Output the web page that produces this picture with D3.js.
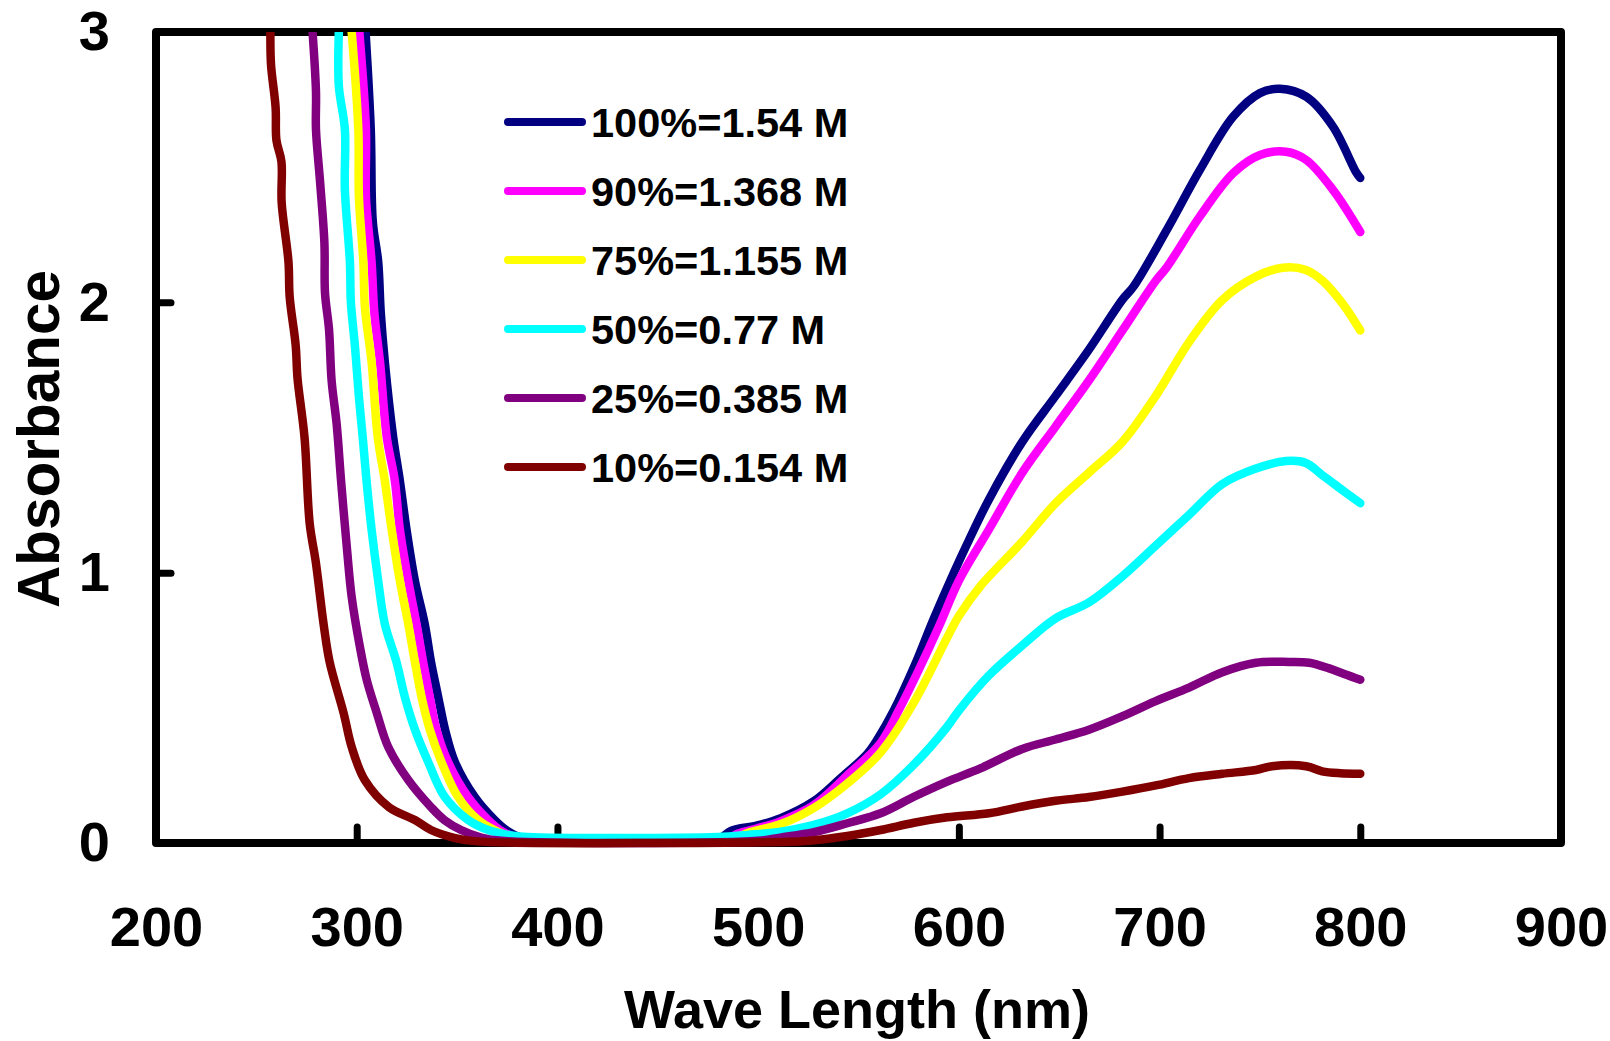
<!DOCTYPE html>
<html>
<head>
<meta charset="utf-8">
<script src="https://cdn.jsdelivr.net/npm/d3@7"></script>
<style>
  html, body { margin: 0; padding: 0; background: #fff; }
  svg { display: block; }
  text { font-family: "Liberation Sans", Arial, sans-serif; font-weight: bold; fill: #000; }
</style>
</head>
<body>
<svg id="chart" width="1610" height="1041"></svg>
<script>
// ---------------- data (wavelength nm, absorbance) ----------------
const xTicks = [200, 300, 400, 500, 600, 700, 800, 900];
const yTicks = [0, 1, 2, 3];
const xTitle = "Wave Length (nm)";
const yTitle = "Absorbance";
const seriesNames = ["100%=1.54 M", "90%=1.368 M", "75%=1.155 M", "50%=0.77 M", "25%=0.385 M", "10%=0.154 M"];
const seriesColors = ["#000080", "#FF00FF", "#FFFF00", "#00FFFF", "#800080", "#800000"];

const s100 = [[304.4,3.0],[307,2.64],[308,2.30],[310.7,2.15],[312,1.96],[314,1.78],[318.2,1.50],[321.5,1.34],[324.8,1.16],[329,0.97],[333.9,0.81],[337,0.67],[340.6,0.54],[344,0.42],[348.9,0.30],[358.8,0.17],[368.7,0.085],[375,0.045],[382,0.02],[390,0.015],[480,0.015],[486.4,0.045],[499.7,0.065],[511.3,0.092],[527.8,0.155],[541.1,0.24],[554.4,0.33],[560,0.39],[567.6,0.49],[577.6,0.65],[587.5,0.83],[597.5,1.0],[605,1.12],[615,1.271],[631.6,1.484],[648.2,1.654],[664.8,1.825],[681.5,2.01],[687,2.058],[703.6,2.268],[720.1,2.49],[736.7,2.687],[750,2.774],[760,2.79],[773.2,2.76],[786.4,2.65],[798,2.48],[800,2.46]];
const s90 = [[301.3,3.0],[304.6,2.64],[304.6,2.39],[307.4,2.15],[308.8,1.96],[311.6,1.78],[315,1.50],[319,1.34],[321.5,1.16],[325.7,0.97],[329.8,0.81],[333.1,0.67],[336.4,0.54],[339.7,0.42],[345.5,0.30],[355.5,0.17],[365.5,0.085],[372,0.045],[380,0.02],[390,0.015],[484,0.015],[490,0.035],[500,0.055],[511,0.08],[527.8,0.14],[544.4,0.25],[561,0.37],[570,0.49],[580,0.64],[590,0.80],[600,0.97],[615,1.16],[631.6,1.37],[648.2,1.541],[664.8,1.711],[681.5,1.896],[698.1,2.08],[703.6,2.13],[720,2.317],[736.7,2.478],[750,2.545],[763,2.557],[773,2.527],[786.4,2.416],[800,2.26]];
const s75 = [[297.5,3.0],[300.8,2.64],[301.1,2.39],[303.3,2.15],[304.1,1.98],[307.4,1.78],[310.5,1.50],[314,1.34],[317.4,1.16],[321.5,0.97],[325.7,0.81],[329,0.67],[332.3,0.54],[336.4,0.42],[342.2,0.30],[350.5,0.17],[360.5,0.085],[368.6,0.048],[378,0.02],[388,0.015],[486,0.015],[496,0.04],[511.3,0.07],[527.8,0.13],[544.4,0.22],[561,0.335],[577.6,0.52],[594.2,0.76],[600,0.84],[610.7,0.95],[631.6,1.115],[648.2,1.257],[664.8,1.37],[681.5,1.484],[698.1,1.654],[714.7,1.853],[731.3,2.009],[748,2.095],[761.3,2.128],[772.9,2.12],[781.2,2.08],[791.2,1.995],[800,1.896]];
const s50 = [[291.1,3.0],[291.1,2.80],[294.1,2.64],[294.1,2.42],[296.6,2.15],[297.1,2.0],[299.1,1.84],[301.1,1.65],[303,1.50],[304.9,1.34],[307.4,1.16],[310.7,0.97],[314,0.81],[319.8,0.67],[324,0.54],[329,0.42],[335.6,0.30],[343.9,0.17],[355.5,0.085],[365.5,0.048],[377,0.028],[385,0.022],[480,0.022],[494.7,0.03],[511.3,0.042],[527.8,0.067],[544.4,0.11],[561,0.18],[577.6,0.29],[594.2,0.43],[600,0.49],[615,0.62],[631.6,0.731],[648.2,0.831],[664.8,0.89],[681.5,0.987],[698.1,1.10],[714.7,1.214],[731.3,1.328],[748,1.385],[763,1.413],[772.9,1.406],[781.2,1.36],[789.5,1.314],[800,1.257]];
const s25 = [[278,3.0],[279.7,2.78],[279.7,2.64],[281.7,2.45],[283.9,2.22],[284.2,2.035],[286.2,1.90],[287.5,1.71],[290,1.55],[292.2,1.34],[295,1.10],[297.5,0.91],[301.6,0.725],[305,0.603],[310,0.481],[315.7,0.355],[325.7,0.233],[337,0.133],[343.7,0.085],[352,0.048],[362,0.02],[372,0.008],[500,0.008],[511,0.02],[527.8,0.04],[544.4,0.073],[561,0.11],[577.6,0.171],[594.2,0.227],[610.7,0.276],[631.6,0.348],[648.2,0.383],[664.8,0.419],[681.5,0.469],[698.1,0.525],[714.7,0.575],[731.3,0.632],[748,0.667],[764.6,0.67],[774.6,0.667],[784.5,0.646],[792,0.625],[800,0.604]];
const s10 = [[257,3.0],[257.3,2.88],[259.6,2.72],[260,2.60],[262.5,2.52],[262.6,2.37],[266,2.15],[266.6,2.02],[269.6,1.84],[270.5,1.72],[274,1.50],[276.6,1.18],[279.6,1.04],[283.5,0.81],[286.5,0.67],[293.5,0.48],[297.5,0.355],[304,0.233],[316,0.133],[329,0.085],[337,0.048],[349,0.018],[360,0.006],[520,0.006],[527.8,0.01],[544.4,0.026],[561,0.048],[577.6,0.075],[594.2,0.095],[615,0.11],[631.6,0.135],[648.2,0.156],[664.8,0.17],[681.5,0.19],[698.1,0.213],[714.7,0.24],[731.3,0.256],[748,0.27],[756,0.284],[773,0.284],[781,0.265],[790,0.258],[800,0.256]];
const seriesData = [s100, s90, s75, s50, s25, s10];

// ---------------- drawing ----------------
const svg = d3.select("#chart");
const pL = 156, pR = 1561, pT = 32, pB = 843;
const x = d3.scaleLinear().domain([200, 900]).range([pL, pR]);
const y = d3.scaleLinear().domain([0, 3]).range([pB, pT]);

// frame
svg.append("rect")
  .attr("x", pL).attr("y", pT)
  .attr("width", pR - pL).attr("height", pB - pT)
  .attr("fill", "none").attr("stroke", "#000")
  .attr("stroke-width", 8).attr("stroke-linejoin", "round");

// axes
const xAxis = d3.axisBottom(x).tickValues(xTicks).tickSize(-16).tickPadding(63).tickFormat(d3.format("d"));
const gx = svg.append("g").attr("transform", `translate(0,${pB})`).call(xAxis);
const yAxis = d3.axisLeft(y).tickValues(yTicks).tickSize(-15).tickPadding(46).tickFormat(d3.format("d"));
const gy = svg.append("g").attr("transform", `translate(${pL},0)`).call(yAxis);
[gx, gy].forEach(g => {
  g.select(".domain").remove();
  g.selectAll(".tick line").attr("stroke", "#000").attr("stroke-width", 7).attr("stroke-linecap", "round");
  g.selectAll(".tick text").attr("font-size", 56).attr("font-family", "'Liberation Sans', Arial, sans-serif")
    .attr("font-weight", "bold").attr("fill", "#000");
});
gx.selectAll(".tick").filter(d => d === 200 || d === 900).select("line").remove();
gy.selectAll(".tick").filter(d => d === 0 || d === 3).select("line").remove();

// clip
svg.append("clipPath").attr("id", "plotClip")
  .append("rect").attr("x", pL - 4).attr("y", pT).attr("width", pR - pL + 8).attr("height", pB - pT + 8);

const line = d3.line().x(d => x(d[0])).y(d => y(d[1])).curve(d3.curveCatmullRom.alpha(0.5));
svg.append("g").attr("clip-path", "url(#plotClip)")
  .selectAll("path").data(seriesData).join("path")
  .attr("d", line)
  .attr("fill", "none")
  .attr("stroke", (d, i) => seriesColors[i])
  .attr("stroke-width", 8.5)
  .attr("stroke-linejoin", "round")
  .attr("stroke-linecap", "round");

// legend
const lg = svg.append("g");
seriesNames.forEach((name, i) => {
  const cy = 122 + i * 69;
  lg.append("line").attr("x1", 508).attr("x2", 582).attr("y1", cy).attr("y2", cy)
    .attr("stroke", seriesColors[i]).attr("stroke-width", 8).attr("stroke-linecap", "round");
  lg.append("text").attr("x", 591).attr("y", cy).attr("dy", "0.36em")
    .attr("font-size", 41.5).text(name);
});

// axis titles
svg.append("text").attr("x", 857).attr("y", 1028).attr("text-anchor", "middle")
  .attr("font-size", 54).text(xTitle);
svg.append("text").attr("transform", "translate(59,439) rotate(-90)").attr("text-anchor", "middle")
  .attr("font-size", 58.5).text(yTitle);
</script>
</body>
</html>
